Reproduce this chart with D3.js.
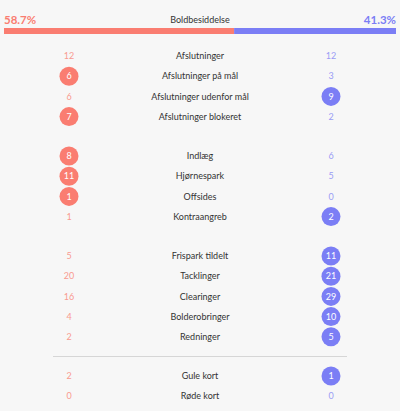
<!DOCTYPE html>
<html><head><meta charset="utf-8">
<script src="https://cdn.jsdelivr.net/npm/d3@7"></script>
<style>html,body{margin:0;padding:0;background:#f7f7f7;}svg{display:block;}</style>
</head><body>
<svg id="c" width="400" height="411"></svg>
<script>
const possessionLabel = "Boldbesiddelse";
const possession = [58.7, 41.3];
const groups = [
  ["Afslutninger","Afslutninger på mål","Afslutninger udenfor mål","Afslutninger blokeret"],
  ["Indlæg","Hjørnespark","Offsides","Kontraangreb"],
  ["Frispark tildelt","Tacklinger","Clearinger","Bolderobringer","Redninger"],
  ["Gule kort","Røde kort"]
];
const homeValues = [[12,6,6,7],[8,11,1,1],[5,20,16,4,2],[2,0]];
const awayValues = [[12,3,9,2],[6,5,0,2],[11,21,29,10,5],[1,0]];
const lowerIsBetter = [false,false,false,true];

const W = 400, red = "#fa7d71", blue = "#7b7ef5", redLight = "#f99a90", blueLight = "#9a9cf5";
const svg = d3.select("#c");
svg.append("rect").attr("width",W).attr("height",411).attr("fill","#f7f7f7");

// possession
const x = d3.scaleLinear().domain([0,100]).range([4,396]);
svg.append("rect").attr("x",x(0)).attr("y",28).attr("width",x(possession[0])-x(0)).attr("height",6).attr("fill",red);
svg.append("rect").attr("x",x(possession[0])).attr("y",28).attr("width",x(100)-x(possession[0])).attr("height",6).attr("fill",blue);
svg.append("text").attr("x",4).attr("y",24).attr("font-family","Lato, sans-serif").attr("font-weight","bold").attr("font-size",11.5).attr("fill",red).text(possession[0].toFixed(1)+"%");
svg.append("text").attr("x",396).attr("y",24).attr("text-anchor","end").attr("font-family","Lato, sans-serif").attr("font-weight","bold").attr("font-size",11.5).attr("fill",blue).text(possession[1].toFixed(1)+"%");
svg.append("text").attr("x",200).attr("y",23).attr("text-anchor","middle").attr("font-family","Lato, sans-serif").attr("font-size",9).attr("fill","#333").text(possessionLabel);

// rows
const groupStarts = [56, 156, 256, 376];
const step = 20.2;
const rows = [];
groups.forEach((g,gi)=>g.forEach((lab,i)=>{
  const h = homeValues[gi][i], a = awayValues[gi][i];
  const lib = lowerIsBetter[gi];
  rows.push({label:lab,home:h,away:a,y:groupStarts[gi]+i*step,
    homeWin: lib ? h<a : h>a, awayWin: lib ? a<h : a>h});
}));

const hx = 69, ax = 331, r = 9.5;
const rg = svg.selectAll("g.row").data(rows).join("g").attr("class","row").attr("transform",d=>`translate(0,${d.y})`);
rg.filter(d=>d.homeWin).append("circle").attr("cx",hx).attr("r",r).attr("fill",red);
rg.filter(d=>d.awayWin).append("circle").attr("cx",ax).attr("r",r).attr("fill",blue);
rg.append("text").attr("x",hx).attr("dy","0.35em").attr("text-anchor","middle").attr("font-family","Lato, sans-serif").attr("font-size",9)
  .attr("fill",d=>d.homeWin?"#fff":redLight).text(d=>d.home);
rg.append("text").attr("x",ax).attr("dy","0.35em").attr("text-anchor","middle").attr("font-family","Lato, sans-serif").attr("font-size",9)
  .attr("fill",d=>d.awayWin?"#fff":blueLight).text(d=>d.away);
rg.append("text").attr("x",200).attr("dy","0.35em").attr("text-anchor","middle").attr("font-family","Lato, sans-serif").attr("font-size",9).attr("fill","#333").text(d=>d.label);

svg.append("line").attr("x1",53).attr("x2",347).attr("y1",356.5).attr("y2",356.5).attr("stroke","#d6d6d6").attr("stroke-width",1);
</script>
</body></html>
